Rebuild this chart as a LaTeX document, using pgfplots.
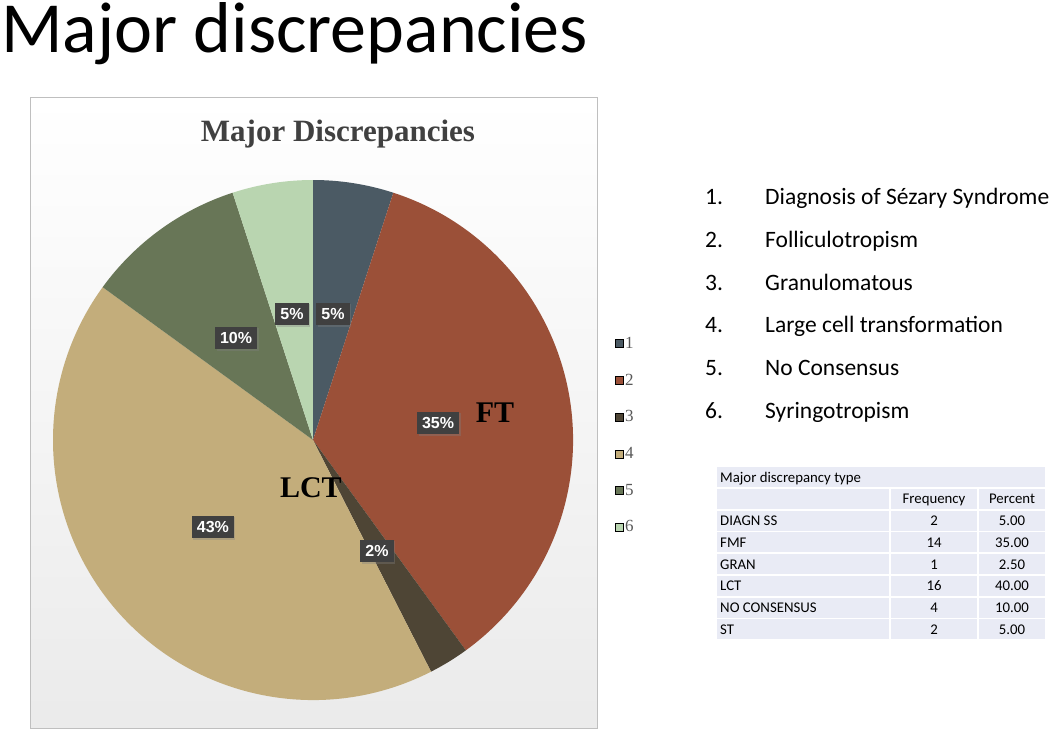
\documentclass[border=0pt]{standalone}
\usepackage{fontspec}
\setmainfont{Carlito}
\newfontfamily\chartserif{Liberation Serif}
\newfontfamily\labelsans{Liberation Sans}
\usepackage{pgfplots}
\pgfplotsset{compat=1.18}
\usepackage{pgfplotstable}
\usetikzlibrary{shadows}

\definecolor{slice0}{HTML}{4B5A64}
\definecolor{slice1}{HTML}{9B5038}
\definecolor{slice2}{HTML}{4E4535}
\definecolor{slice3}{HTML}{C3AD7B}
\definecolor{slice4}{HTML}{687657}
\definecolor{slice5}{HTML}{B9D5B0}
\definecolor{labelbox}{HTML}{404040}
\definecolor{legendtxt}{HTML}{595959}
\definecolor{tablebg}{HTML}{E9EBF5}

% counts per discrepancy type (out of 40 cases)
\pgfplotstableread{
cat n
1 2
2 14
3 1
4 17
5 4
6 2
}\disctable

% cumulative start/end angles, clockwise from 12 o'clock
\def\total{0}%
\pgfplotsforeachungrouped \i in {0,...,5}{%
  \pgfplotstablegetelem{\i}{n}\of\disctable
  \pgfmathsetmacro\total{\total+\pgfplotsretval}%
}%
\def\cum{0}%
\pgfplotsforeachungrouped \i in {0,...,5}{%
  \pgfplotstablegetelem{\i}{n}\of\disctable
  \pgfmathsetmacro\sa{90-360*\cum/\total}%
  \pgfmathsetmacro\cum{\cum+\pgfplotsretval}%
  \pgfmathsetmacro\ea{90-360*\cum/\total}%
  \expandafter\xdef\csname sa\i\endcsname{\sa}%
  \expandafter\xdef\csname ea\i\endcsname{\ea}%
}%

\tikzset{
  lbl/.style={fill=labelbox, text=white, inner xsep=5pt, inner ysep=5.5pt,
    font=\labelsans\bfseries\fontsize{16}{16}\selectfont,
    drop shadow={opacity=0.35, shadow xshift=1.5pt, shadow yshift=-1.5pt}},
}

\begin{document}
\begin{tikzpicture}[x=1pt, y=-1pt]
\fill[white] (0,0) rectangle (1050,730);
\useasboundingbox (0,0) rectangle (1050,730);

\node[anchor=base west, inner sep=0pt, font=\fontsize{72}{72}\selectfont] at (1,53) {Major discrepancies};

% chart area
\draw[draw=black!25, top color=white, bottom color=black!8] (30,97) rectangle (597,728);
\node[font=\chartserif\bfseries\fontsize{31}{31}\selectfont, text=black!75] at (338,134) {Major Discrepancies};

\coordinate (pc) at (313,440);
\begin{axis}[
    at={(pc)}, anchor=center,
    scale only axis, width=520pt, height=520pt,
    xmin=-1, xmax=1, ymin=-1, ymax=1,
    hide axis, clip=false, disabledatascaling,
    legend image code/.code={\fill[#1] (0pt,-4pt) rectangle (8pt,4pt);},
    legend style={at={(1.08,0.509)}, anchor=west, draw=none, fill=none,
      font=\chartserif\fontsize{17}{17}\selectfont\color{legendtxt},
      row sep=20pt, inner sep=0pt, nodes={inner sep=2pt}},
    legend cell align=left,
]
\pgfplotsinvokeforeach{0,...,5}{%
  \fill[slice#1] (axis cs:0,0) -- (axis cs:{cos(\csname sa#1\endcsname)},{sin(\csname sa#1\endcsname)})
    arc[start angle=\csname sa#1\endcsname, end angle=\csname ea#1\endcsname, radius=1] -- cycle;
}
\addlegendimage{fill=slice0}\addlegendentry{1}
\addlegendimage{fill=slice1}\addlegendentry{2}
\addlegendimage{fill=slice2}\addlegendentry{3}
\addlegendimage{fill=slice3}\addlegendentry{4}
\addlegendimage{fill=slice4}\addlegendentry{5}
\addlegendimage{fill=slice5}\addlegendentry{6}

\node[lbl] at (axis cs:0.077,0.485) {5\%};
\node[lbl] at (axis cs:-0.081,0.485) {5\%};
\node[lbl] at (axis cs:0.481,0.065) {35\%};
\node[lbl] at (axis cs:0.246,-0.427) {2\%};
\node[lbl] at (axis cs:-0.385,-0.335) {43\%};
\node[lbl] at (axis cs:-0.296,0.392) {10\%};
\node[font=\chartserif\bfseries\fontsize{30}{30}\selectfont] at (axis cs:0.70,0.105) {FT};
\node[font=\chartserif\bfseries\fontsize{30}{30}\selectfont] at (axis cs:-0.008,-0.185) {LCT};
\end{axis}

% numbered list
\foreach \k/\t [count=\j from 0] in {1/Diagnosis of Sézary Syndrome, 2/Folliculotropism,
    3/Granulomatous, 4/Large cell transformation, 5/No Consensus, 6/Syringotropism}{
  \node[anchor=base west, inner sep=0pt, font=\fontsize{23.5}{23.5}\selectfont] at (705,{205+42.6*\j}) {\k.};
  \node[anchor=base west, inner sep=0pt, font=\fontsize{23.5}{23.5}\selectfont] at (765,{205+42.6*\j}) {\t};
}

% frequency table
\fill[tablebg] (717,467) rectangle (1045,487);
\node[anchor=base west, inner sep=0pt, font=\fontsize{14.8}{14.8}\selectfont] at (720,482) {Major discrepancy type};
\foreach \a/\b/\c [count=\j from 1] in {/Frequency/Percent, DIAGN SS/2/5.00, FMF/14/35.00,
    GRAN/1/2.50, LCT/16/40.00, NO CONSENSUS/4/10.00, ST/2/5.00}{
  \pgfmathsetmacro\ry{467+21.75*\j}
  \fill[tablebg] (717,\ry) rectangle (889,\ry+20);
  \fill[tablebg] (891,\ry) rectangle (977,\ry+20);
  \fill[tablebg] (979,\ry) rectangle (1045,\ry+20);
  \node[anchor=base west, inner sep=0pt, font=\fontsize{14.8}{14.8}\selectfont] at (720,\ry+15) {\a};
  \node[anchor=base, inner sep=0pt, font=\fontsize{14.8}{14.8}\selectfont] at (934,\ry+15) {\b};
  \node[anchor=base, inner sep=0pt, font=\fontsize{14.8}{14.8}\selectfont] at (1012,\ry+15) {\c};
}
\end{tikzpicture}
\end{document}
